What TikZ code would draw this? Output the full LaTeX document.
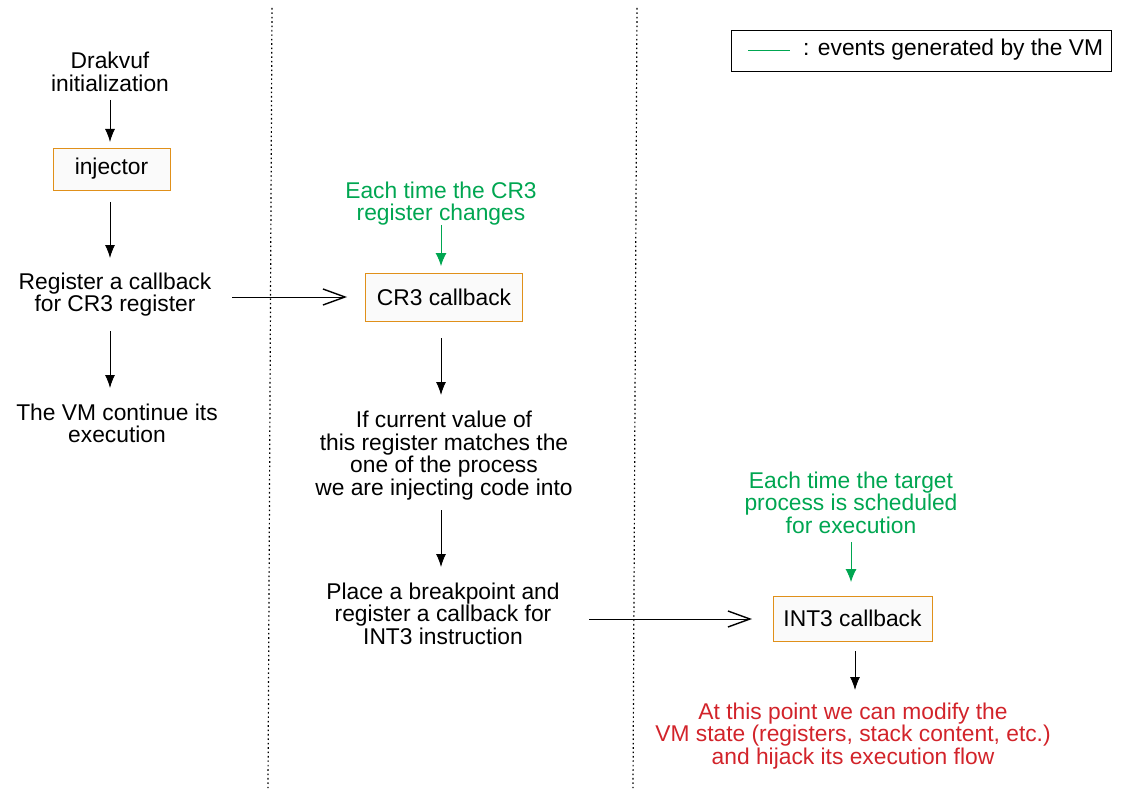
\documentclass[tikz,border=0pt]{standalone}
\usepackage{fontspec}
\setmainfont{Liberation Sans}
\usetikzlibrary{arrows.meta}
\definecolor{evgreen}{RGB}{0,166,81}
\definecolor{hred}{RGB}{210,35,42}
\definecolor{boxorange}{RGB}{224,144,26}
\definecolor{boxfill}{RGB}{250,250,250}
\begin{document}
\begin{tikzpicture}[x=1pt,y=-1pt,
  txt/.style={align=center,font=\fontsize{22.8}{22.5}\selectfont,inner sep=0pt},
  cbbox/.style={draw=boxorange,fill=boxfill,line width=0.8pt,font=\fontsize{22.8}{22.5}\selectfont,minimum height=44pt,inner xsep=8pt},
  flow/.style={-{Latex[length=13pt,width=10pt]},line width=0.9pt},
  evflow/.style={evgreen,-{Latex[length=13pt,width=11pt]},line width=0.9pt},
  callarrow/.style={-{Straight Barb[length=22pt,width=16pt,line width=1.4pt]},line width=0.9pt},
  sep/.style={dash pattern=on 1.6pt off 2.8pt,line width=1.2pt}]
\useasboundingbox (0,0) rectangle (1123,794);
% separators
\coordinate (s1t) at (272,8); \coordinate (s1b) at (268,788);
\coordinate (s2t) at (637,8); \coordinate (s2b) at (633,788);
\draw[sep] (s1t) -- (s1b);
\draw[sep] (s2t) -- (s2b);
% legend
\node[draw,line width=0.8pt,minimum width=380pt,minimum height=41pt] (legend) at (921,50.5) {};
\coordinate (lg1) at (748,50); \coordinate (lg2) at (790,50);
\draw[evgreen,line width=0.9pt] (lg1) -- (lg2);
\node[txt,anchor=west] (legtxt) at (803,50) {: events generated by the VM};
% column 1
\node[txt] (init) at (110,72) {Drakvuf\\initialization};
\node[cbbox,minimum width=117pt,minimum height=42pt] (inj) at (111.5,169) {injector};
\node[txt] (reg) at (115,294.5) {Register a callback\\for CR3 register};
\node[txt] (cont) at (117,423.5) {The VM continue its\\execution};
\coordinate (a1s) at (110,100);
\draw[flow] (a1s) -- (110,142) coordinate (a1e);
\coordinate (a2s) at (110,202); \coordinate (a2e) at (110,258);
\draw[flow] (a2s) -- (a2e);
\coordinate (a3s) at (110,331); \coordinate (a3e) at (110,388);
\draw[flow] (a3s) -- (a3e);
% column 2
\node[txt,evgreen] (ev1) at (441,203.5) {Each time the CR3\\register changes};
\node[cbbox,minimum width=157pt,minimum height=48pt] (cr3) at (444,297) {CR3 callback};
\node[txt] (cond) at (444,455.5) {If current value of\\this register matches the\\one of the process\\we are injecting code into};
\node[txt] (place) at (443,613.5) {Place a breakpoint and\\register a callback for\\INT3 instruction};
\coordinate (g1s) at (441,225);
\draw[evflow] (g1s) -- (441,266) coordinate (g1e);
\coordinate (b1s) at (441,338); \coordinate (b1e) at (441,395);
\draw[flow] (b1s) -- (b1e);
\coordinate (b2s) at (441,510); \coordinate (b2e) at (441,567);
\draw[flow] (b2s) -- (b2e);
\coordinate (h1s) at (232,297);
\draw[callarrow] (h1s) -- (347,297) coordinate (h1e);
% column 3
\node[txt,evgreen] (ev2) at (851,502.5) {Each time the target\\process is scheduled\\for execution};
\node[cbbox,minimum width=159pt,minimum height=45pt] (int3) at (852.5,618.5) {INT3 callback};
\node[txt,hred] (mod) at (853,736) {At this point we can modify the\\VM state (registers, stack content, etc.)\\and hijack its execution flow};
\coordinate (g2s) at (851,542);
\draw[evflow] (g2s) -- (851,582) coordinate (g2e);
\coordinate (c1s) at (855,651); \coordinate (c1e) at (855,690);
\draw[flow] (c1s) -- (c1e);
\coordinate (h2s) at (589,619);
\draw[callarrow] (h2s) -- (752,619) coordinate (h2e);
\end{tikzpicture}
\end{document}
